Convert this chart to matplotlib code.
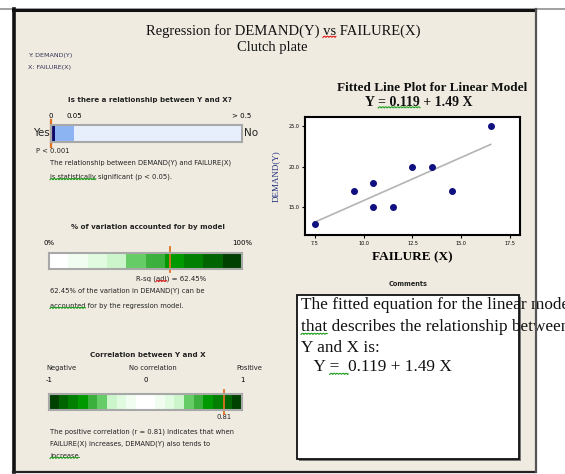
import matplotlib
matplotlib.use("Agg")
import matplotlib.pyplot as plt
import numpy as np
from matplotlib.patches import Rectangle

W, H = 565, 474

# fitted line plot data
failure = [7.5, 9.5, 10.5, 10.5, 11.5, 12.5, 13.5, 14.5, 16.5]
demand = [13, 17, 18, 15, 15, 20, 20, 17, 25]
x_ticks = [7.5, 10.0, 12.5, 15.0, 17.5]
y_ticks = [15, 20, 25]

# gauge values
p_value = 0.0005
p_ticks = [0, 0.05, 0.5]
p_tick_labels = ["0", "0.05", "> 0.5"]
r_sq_adj = 62.45
r_value = 0.81

r2_colors = ["#ffffff", "#f2fdf2", "#e0fbe0", "#ccf5cc", "#66cc66",
             "#3cb03c", "#009900", "#007f00", "#006400", "#004000"]
corr_colors = r2_colors[::-1] + r2_colors

bg_col = "#efebe0"
orange = "#e07020"
serif = "Liberation Serif"
sans = "DejaVu Sans"

fig = plt.figure(figsize=(W / 100, H / 100), dpi=100)
fig.patch.set_facecolor("white")
renderer = fig.canvas.get_renderer()


def px_axes(x0, y0, x1, y1):
    return fig.add_axes([x0 / W, 1 - y1 / H, (x1 - x0) / W, (y1 - y0) / H])


bg = px_axes(0, 0, W, H)
bg.set_xlim(0, W)
bg.set_ylim(H, 0)
bg.axis("off")


def text_width(s, t):
    tmp = fig.text(0, 0, s, fontproperties=t.get_fontproperties())
    w = tmp.get_window_extent(renderer).width
    tmp.remove()
    return w


def squiggle(t, prefix, word, color):
    # spell-check style wavy underline under `word`
    bb = t.get_window_extent(renderer)
    x1 = bb.x0 + text_width(prefix + word, t)
    x0 = x1 - text_width(word, t)
    xs = np.linspace(x0, x1, int((x1 - x0) * 2) + 2)
    ys = bb.y0 + 0.5 + 1.2 * np.abs(np.sin((xs - x0) * np.pi / 3.0))
    bg.plot(xs, H - ys, color=color, lw=0.8, zorder=6)


# report frame
bg.plot([0, W], [8.5, 8.5], color="#909090", lw=1.2, zorder=1)
bg.add_patch(Rectangle((13, 9.5), 522, 462, facecolor=bg_col, edgecolor="none", zorder=1))
bg.plot([13, 535], [10, 10], color="#111111", lw=2.2, zorder=2)
bg.plot([13.5, 13.5], [9, 472], color="#111111", lw=2.6, zorder=2)
bg.plot([13, 535], [472, 472], color="#222222", lw=1.6, zorder=2)
bg.plot([535.5, 535.5], [9, 472], color="#555555", lw=1.6, zorder=7)

title = bg.text(283, 31, "Regression for DEMAND(Y) vs FAILURE(X)", family=serif,
                fontsize=10.5, ha="center", va="center", color="#111111")
bg.text(272, 47, "Clutch plate", family=serif, fontsize=10.5,
        ha="center", va="center", color="#111111")
squiggle(title, "Regression for DEMAND(Y) ", "vs", "#e02020")
bg.text(28, 55, "Y: DEMAND(Y)", family=sans, fontsize=4.6, va="center", color="#333355")
bg.text(28, 67, "X: FAILURE(X)", family=sans, fontsize=4.6, va="center", color="#333355")

small = dict(family=sans, fontsize=4.9, color="#222222", va="center")
bold_small = dict(family=sans, fontsize=5.1, color="#222222", va="center",
                  ha="center", fontweight="bold")

# --- p-value gauge
bg.text(150, 100, "Is there a relationship between Y and X?", **bold_small)
bg.text(50, 133, "Yes", family=sans, fontsize=7.5, va="center", ha="right", color="#222222")
bg.text(244, 133, "No", family=sans, fontsize=7.5, va="center", color="#222222")
bg.text(36, 151, "P < 0.001", **small)
bg.text(50, 163, "The relationship between DEMAND(Y) and FAILURE(X)", **small)
t = bg.text(50, 177, "is statistically significant (p < 0.05).", **small)
squiggle(t, "", "is statistically", "#20a020")

p_pos = [0, 0.12, 1.0]
ax_p = px_axes(51, 125, 242, 142)
ax_p.barh(0, p_pos[2] - p_pos[0], left=p_pos[0], height=1, color="#e8effc")
ax_p.barh(0, p_pos[1] - p_pos[0], left=p_pos[0], height=1, color="#8db4f2")
ax_p.barh(0, 0.022, left=np.interp(p_value, p_ticks, p_pos), height=1, color="#0a0a70")
ax_p.axvline(np.interp(p_value, p_ticks, p_pos), ymin=-0.3, ymax=1.3,
             color=orange, lw=1.6, clip_on=False)
ax_p.set_xlim(0, 1)
ax_p.set_ylim(-0.5, 0.5)
ax_p.set_xticks([np.interp(t, p_ticks, p_pos) for t in p_ticks])
ax_p.set_xticklabels(p_tick_labels)
ax_p.xaxis.tick_top()
ax_p.tick_params(axis="x", length=0, labelsize=5, pad=4)
ax_p.set_yticks([])
for s in ax_p.spines.values():
    s.set_color("#a8a8a8")
    s.set_linewidth(1.5)

# --- R-squared gauge
bg.text(148, 227, "% of variation accounted for by model", **bold_small)
t = bg.text(171, 279, "R-sq (adj) = 62.45%", family=sans, fontsize=5,
            color="#222222", va="center", ha="center")
squiggle(t, "R-sq (", "adj", "#e02020")
bg.text(50, 291, "62.45% of the variation in DEMAND(Y) can be", **small)
t = bg.text(50, 306, "accounted for by the regression model.", **small)
squiggle(t, "", "accounted", "#20a020")

ax_r2 = px_axes(49, 253, 242, 269)
edges = np.arange(len(r2_colors) + 1) * 100 / len(r2_colors)
ax_r2.barh(0, np.diff(edges), left=edges[:-1], height=1, color=r2_colors)
ax_r2.axvline(r_sq_adj, ymin=-0.2, ymax=1.4, color=orange, lw=1.3, clip_on=False)
ax_r2.set_xlim(0, 100)
ax_r2.set_ylim(-0.5, 0.5)
ax_r2.set_xticks([0, 100])
ax_r2.set_xticklabels(["0%", "100%"])
ax_r2.xaxis.tick_top()
ax_r2.tick_params(axis="x", length=0, labelsize=5, pad=5)
ax_r2.set_yticks([])
for s in ax_r2.spines.values():
    s.set_color("#a8a8a8")
    s.set_linewidth(1.5)

# --- correlation gauge
bg.text(148, 355, "Correlation between Y and X", **bold_small)
bg.text(46, 368, "Negative", **small)
bg.text(153, 368, "No correlation", family=sans, fontsize=4.9, color="#222222",
        va="center", ha="center")
bg.text(262, 368, "Positive", family=sans, fontsize=4.9, color="#222222",
        va="center", ha="right")
bg.text(224, 417, "%.2f" % r_value, family=sans, fontsize=4.9, color="#222222",
        va="center", ha="center")
bg.text(50, 432, "The positive correlation (r = 0.81) indicates that when", **small)
bg.text(50, 444, "FAILURE(X) increases, DEMAND(Y) also tends to", **small)
t = bg.text(50, 456, "increase.", **small)
squiggle(t, "", "increase", "#20a020")

ax_c = px_axes(49, 394, 242, 410)
edges = np.linspace(-1, 1, len(corr_colors) + 1)
ax_c.barh(0, np.diff(edges), left=edges[:-1], height=1, color=corr_colors)
ax_c.axvline(r_value, ymin=-0.25, ymax=1.25, color=orange, lw=1.3, clip_on=False)
ax_c.set_xlim(-1, 1)
ax_c.set_ylim(-0.5, 0.5)
ax_c.set_xticks([-1, 0, 1])
ax_c.set_xticklabels(["-1", "0", "1"])
ax_c.xaxis.tick_top()
ax_c.tick_params(axis="x", length=0, labelsize=5, pad=8)
ax_c.set_yticks([])
for s in ax_c.spines.values():
    s.set_color("#a8a8a8")
    s.set_linewidth(1.5)

# --- fitted line plot
ttl = px_axes(330, 78, 529, 98)
ttl.set_xlim(330, 529)
ttl.set_ylim(98, 78)
ttl.axis("off")
ttl.text(337, 88, "Fitted Line Plot for Linear Model", family=serif,
         fontsize=9.5, fontweight="bold", va="center", color="#111111",
         clip_on=True)
eq = bg.text(419, 102, "Y = 0.119 + 1.49 X", family=serif, fontsize=10,
             fontweight="bold", va="center", ha="center", color="#111111")
squiggle(eq, "Y ", "= 0.119", "#20a020")

ax = px_axes(305, 117, 520, 235)
slope, icpt = np.polyfit(failure, demand, 1)
xs = np.array([min(failure), max(failure)])
ax.plot(xs, icpt + slope * xs, color="#b4b4b4", lw=1.2, zorder=1)
ax.scatter(failure, demand, s=16, color="#101080", zorder=2)
ax.set_xlim(7.0, 18.0)
ax.set_ylim(11.6, 26.1)
ax.set_xticks(x_ticks)
ax.set_yticks(y_ticks)
ax.set_xticklabels(["%.1f" % t for t in x_ticks])
ax.set_yticklabels(["%.1f" % t for t in y_ticks])
ax.tick_params(labelsize=3.5, length=2, width=0.8, pad=2)
for s in ax.spines.values():
    s.set_linewidth(1.5)
ax.set_xlabel("FAILURE (X)", family=serif, fontsize=9.5, fontweight="bold",
              labelpad=4)
ax.set_ylabel("DEMAND(Y)", family=serif, fontsize=6.5, color="#203080",
              labelpad=6)

# --- comments
bg.text(408, 284, "Comments", family=sans, fontsize=4.7, fontweight="bold",
        ha="center", va="center", color="#222222")
bg.add_patch(Rectangle((299, 297), 222, 164, facecolor="#777777", edgecolor="none", zorder=2))
bg.add_patch(Rectangle((297, 295), 222, 164, facecolor="white",
                       edgecolor="#111111", lw=1.3, zorder=3))
lines = ["The fitted equation for the linear model",
         "that describes the relationship between",
         "Y and X is:",
         "   Y =  0.119 + 1.49 X"]
line_y = [305, 327, 348, 367]
for i, s in enumerate(lines):
    t = bg.text(301, line_y[i], s, family=serif, fontsize=12.4, va="center",
                color="#111111", zorder=5)
    if i == 1:
        squiggle(t, "", "that", "#20a020")
    if i == 3:
        squiggle(t, "   Y ", "=  ", "#20a020")

fig.savefig("out.png", dpi=100, facecolor=fig.get_facecolor())
